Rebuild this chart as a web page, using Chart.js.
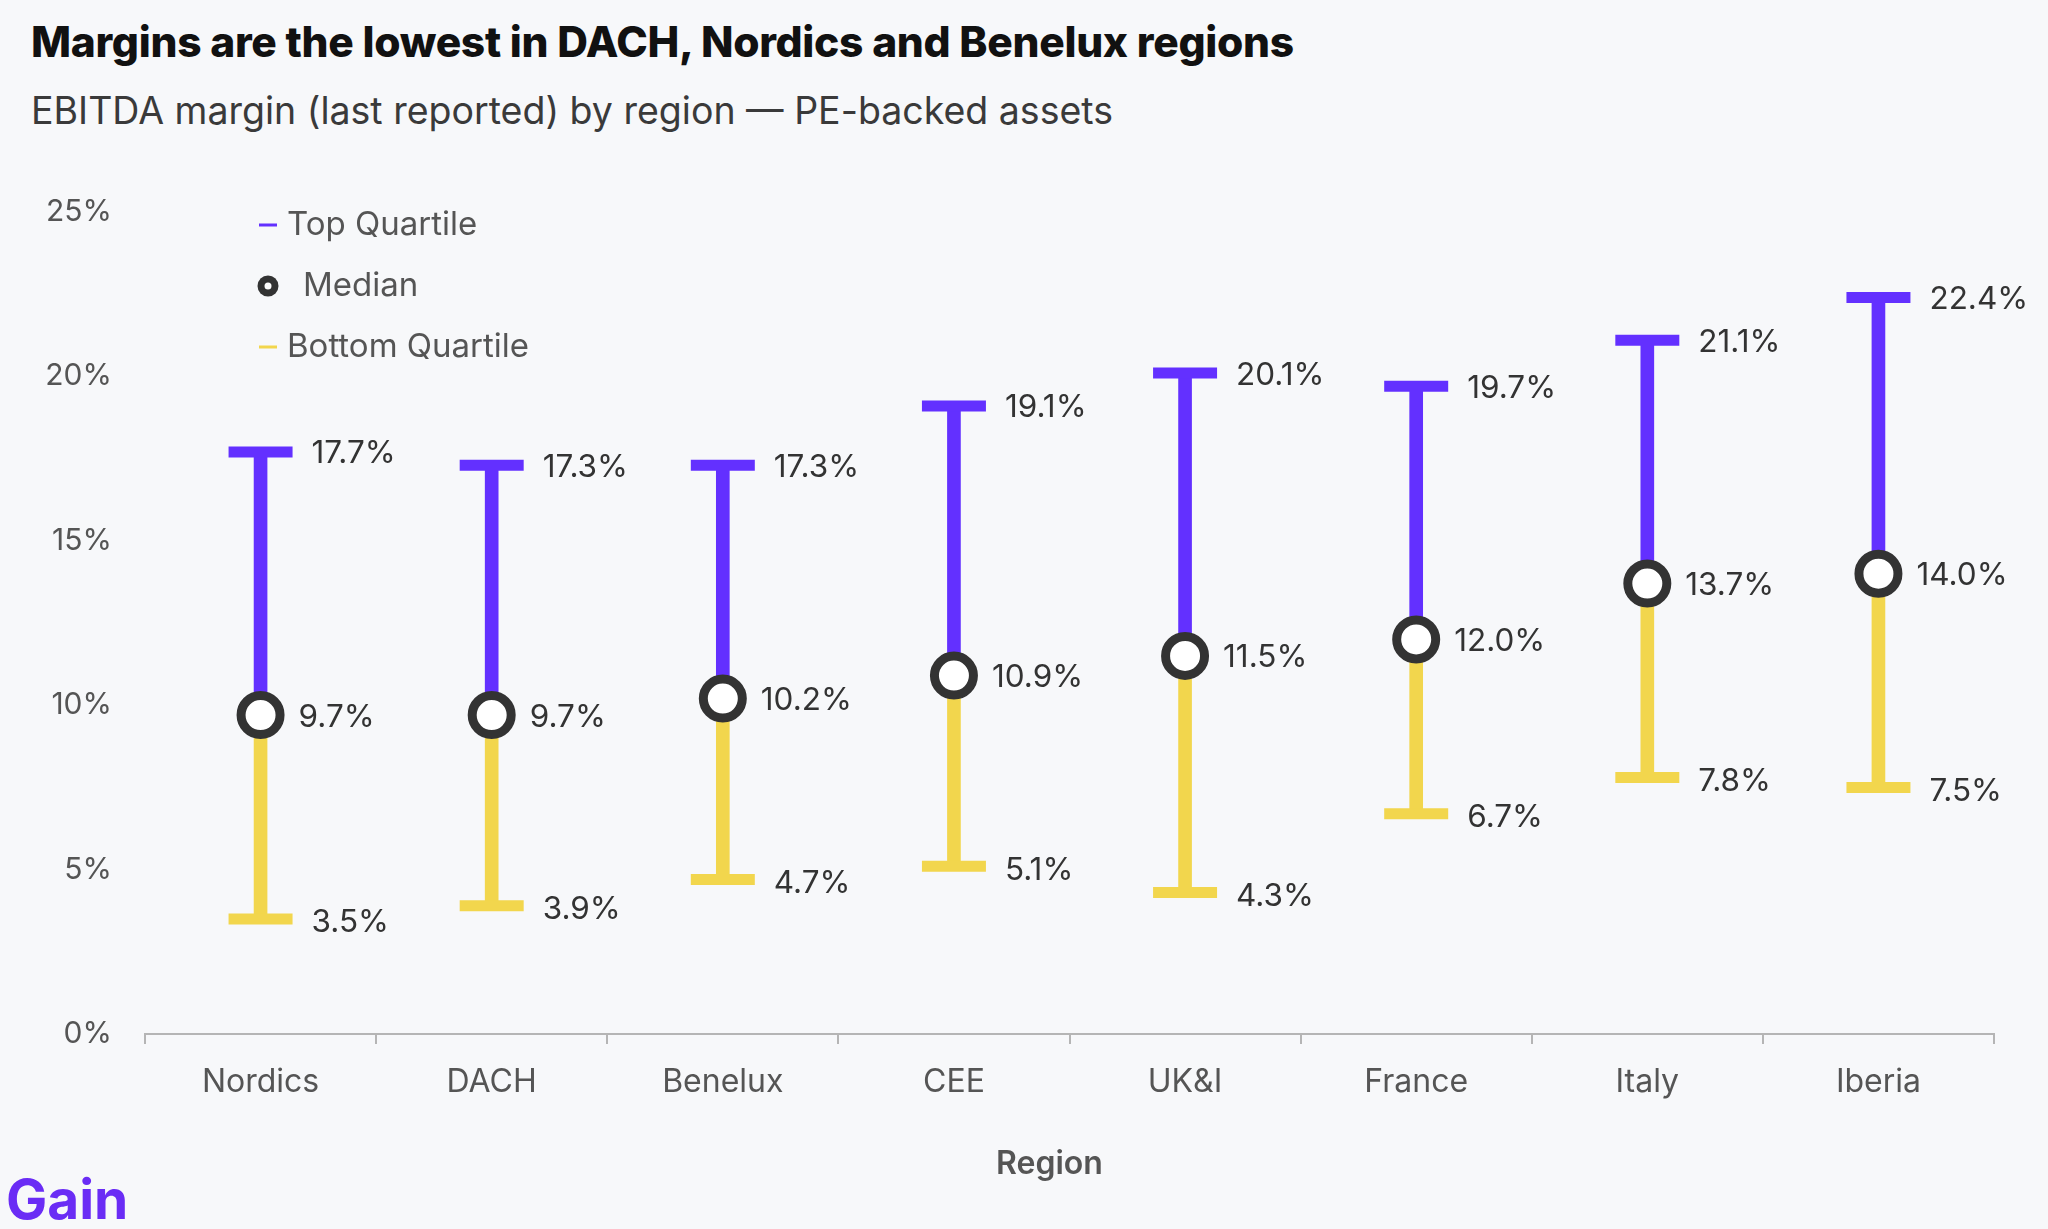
<!DOCTYPE html>
<html>
<head>
<meta charset="utf-8">
<script src="https://cdn.jsdelivr.net/npm/chart.js@4/dist/chart.umd.min.js"></script>
<style>
  html, body { margin: 0; padding: 0; background: #f7f8fa; }
  body { width: 2048px; height: 1229px; position: relative; overflow: hidden; font-family: Inter, "Noto Sans", sans-serif; }
  #title { position: absolute; left: 31px; top: 16px; font-size: 42.5px; font-weight: 800; color: #111; letter-spacing: -0.3px; white-space: nowrap; }
  #subtitle { position: absolute; left: 31px; top: 88px; font-size: 37.5px; font-weight: 400; color: #3a3a3a; white-space: nowrap; }
  #logo { position: absolute; left: 6px; top: 1166px; font-size: 55px; font-weight: 700; color: #6a2cf5; letter-spacing: 0px; }
  #wrap { position: absolute; left: 0; top: 0; width: 2048px; height: 1229px; }
</style>
</head>
<body>
<div id="title">Margins are the lowest in DACH, Nordics and Benelux regions</div>
<div id="subtitle">EBITDA margin (last reported) by region — PE-backed assets</div>
<div id="wrap"><canvas id="c" width="2048" height="1229"></canvas></div>
<div id="logo">Gain</div>
<script>
const categories = ["Nordics", "DACH", "Benelux", "CEE", "UK&I", "France", "Italy", "Iberia"];
const topQuartile = [17.7, 17.3, 17.3, 19.1, 20.1, 19.7, 21.1, 22.4];
const median = [9.7, 9.7, 10.2, 10.9, 11.5, 12.0, 13.7, 14.0];
const bottomQuartile = [3.5, 3.9, 4.7, 5.1, 4.3, 6.7, 7.8, 7.5];
const yTicks = [0, 5, 10, 15, 20, 25];
const xAxisTitle = 'Region';

const PURPLE = '#6330ff';
const YELLOW = '#f2d64d';
const DARK = '#333333';

const dataLabels = {
  id: 'dataLabels',
  afterDatasetsDraw(chart) {
    const ctx = chart.ctx;
    ctx.save();
    ctx.font = '400 31.5px Inter, sans-serif';
    ctx.fillStyle = '#333';
    ctx.textAlign = 'left';
    ctx.textBaseline = 'middle';
    chart.data.datasets.forEach((ds, i) => {
      if (!ds.valueLabel) return;
      const meta = chart.getDatasetMeta(i);
      meta.data.forEach((pt, j) => {
        ctx.fillText(ds.data[j].toFixed(1) + '%', pt.x + ds.valueLabel.dx, pt.y + ds.valueLabel.dy);
      });
    });
    ctx.restore();
  }
};

const axisTitle = {
  id: 'axisTitle',
  afterDraw(chart) {
    const ctx = chart.ctx;
    const xs = chart.scales.x;
    ctx.save();
    ctx.font = '600 32px Inter, sans-serif';
    ctx.fillStyle = '#555';
    ctx.textAlign = 'center';
    ctx.textBaseline = 'middle';
    ctx.fillText(xAxisTitle, (xs.left + xs.right) / 2 - 20, 1164);
    ctx.restore();
  }
};

const customLegend = {
  id: 'customLegend',
  afterDraw(chart) {
    const ctx = chart.ctx;
    const items = chart.data.datasets.filter(d => d.legendKind).sort((a, b) => a.legendRank - b.legendRank);
    const x0 = 268;
    let y = 225;
    ctx.save();
    ctx.font = '400 33px Inter, sans-serif';
    ctx.textBaseline = 'middle';
    items.forEach(ds => {
      if (ds.legendKind === 'line') {
        ctx.strokeStyle = ds.legendColor;
        ctx.lineWidth = 3;
        ctx.beginPath();
        ctx.moveTo(x0 - 9, y);
        ctx.lineTo(x0 + 9, y);
        ctx.stroke();
        ctx.fillStyle = '#555';
        ctx.fillText(ds.label, 287, y);
      } else {
        ctx.beginPath();
        ctx.arc(x0, y, 10.5, 0, Math.PI * 2);
        ctx.fillStyle = DARK;
        ctx.fill();
        ctx.beginPath();
        ctx.arc(x0, y, 3.5, 0, Math.PI * 2);
        ctx.fillStyle = '#fff';
        ctx.fill();
        ctx.fillStyle = '#555';
        ctx.fillText(ds.label, 303, y);
      }
      y += 61;
    });
    ctx.restore();
  }
};

new Chart(document.getElementById('c'), {
  data: {
    labels: categories,
    datasets: [
      {
        type: 'line', label: 'Median', data: median, showLine: false,
        pointRadius: 19.5, pointHoverRadius: 19.5, borderWidth: 9, pointBorderWidth: 9,
        borderColor: DARK, backgroundColor: '#ffffff', order: 0,
        valueLabel: { dx: 38, dy: 2 }, legendKind: 'circle', legendRank: 1
      },
      {
        type: 'line', label: 'Top cap', data: topQuartile, showLine: false,
        pointStyle: 'line', pointRadius: 32, pointHoverRadius: 32, borderWidth: 11, pointBorderWidth: 11,
        borderColor: PURPLE, order: 1, valueLabel: { dx: 51, dy: 2 }
      },
      {
        type: 'line', label: 'Bottom cap', data: bottomQuartile, showLine: false,
        pointStyle: 'line', pointRadius: 32, pointHoverRadius: 32, borderWidth: 11, pointBorderWidth: 11,
        borderColor: YELLOW, order: 1, valueLabel: { dx: 51, dy: 4 }
      },
      {
        type: 'bar', label: 'Top Quartile', data: median.map((m, i) => [m, topQuartile[i]]),
        backgroundColor: PURPLE, barThickness: 13, grouped: false, order: 2,
        legendKind: 'line', legendColor: PURPLE, legendRank: 0
      },
      {
        type: 'bar', label: 'Bottom Quartile', data: median.map((m, i) => [bottomQuartile[i], m]),
        backgroundColor: YELLOW, barThickness: 13, grouped: false, order: 2,
        legendKind: 'line', legendColor: YELLOW, legendRank: 2
      }
    ]
  },
  options: {
    responsive: false,
    animation: false,
    events: [],
    layout: { padding: { top: 212, right: 54, left: 0, bottom: 0 } },
    plugins: { legend: { display: false }, tooltip: { enabled: false }, title: { display: false } },
    scales: {
      x: {
        type: 'category',
        offset: true,
        grid: { display: true, drawOnChartArea: false, drawTicks: true, tickLength: 10, color: '#b5b5b5', lineWidth: 2, offset: true },
        border: { display: true, color: '#b5b5b5', width: 2 },
        ticks: { color: '#555', font: { family: 'Inter', size: 32 }, padding: 19, maxRotation: 0 },
        title: { display: false },
        afterFit(scale) { scale.height = 195; }
      },
      y: {
        min: 0, max: 25,
        afterBuildTicks(scale) { scale.ticks = yTicks.map(v => ({ value: v })); },
        grid: { display: false, drawTicks: false },
        border: { display: false },
        ticks: { color: '#555', font: { family: 'Inter', size: 30 }, padding: 33, callback: v => v + '%' },
        afterFit(scale) { scale.width = 145; }
      }
    }
  },
  plugins: [dataLabels, customLegend, axisTitle]
});
</script>
</body>
</html>
